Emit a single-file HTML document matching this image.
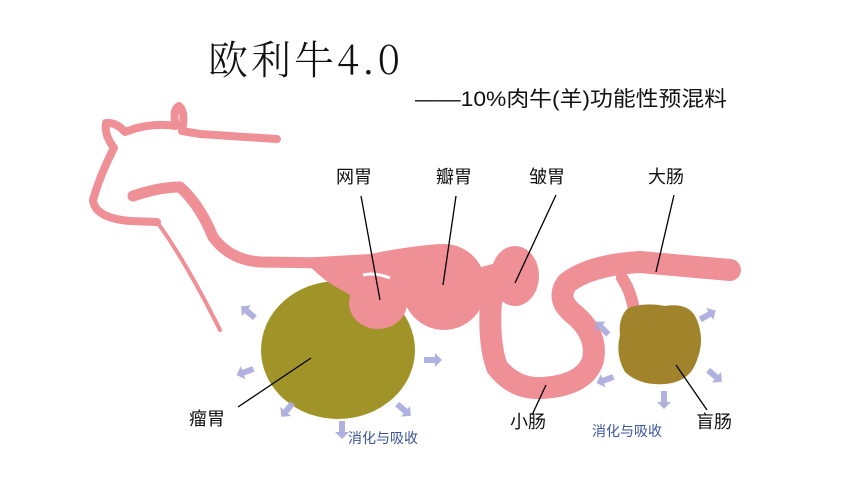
<!DOCTYPE html>
<html><head><meta charset="utf-8"><style>
html,body{margin:0;padding:0;background:#fff;width:848px;height:490px;overflow:hidden}
svg{display:block}
.t{font-family:"Liberation Sans","Noto Sans CJK SC",sans-serif;fill:#111}
.b{font-family:"Liberation Sans","Noto Sans CJK SC",sans-serif;fill:#3a55a0;font-size:14px}
</style></head><body>
<svg width="848" height="490" viewBox="0 0 848 490" xmlns="http://www.w3.org/2000/svg">
<defs>
<g id="ar"><path d="M-9,-3 L2,-3 L2,-7 L9,0 L2,7 L2,3 L-9,3 Z" fill="#a8a8dc" opacity="0.9"/></g>
</defs>
<text x="208" y="74" font-family="'Noto Serif CJK SC',serif" font-weight="300" font-size="40" fill="#111" letter-spacing="3">欧利牛4.0</text>
<text x="415" y="106" class="t" font-size="21" textLength="312" lengthAdjust="spacingAndGlyphs">——10%肉牛(羊)功能性预混料</text>

<!-- rumen -->
<ellipse cx="338" cy="350" rx="77" ry="69" fill="#a09428"/>
<g fill="none" stroke="#ef8f96" stroke-linecap="round" stroke-linejoin="round">
<path d="M277,139 L200,134 L182,131 Q186,112 179,106 Q172,110 176,126 Q150,122 125,132 Q116,122 106,123 Q104,135 114,148 Q100,175 93,200 Q95,218 130,221 L157,222" stroke-width="8"/>
<path d="M157,222 Q185,260 220,330" stroke-width="4"/>
<path d="M133,196 Q160,187 180,187 Q200,205 213,237 Q230,260 260,262 L330,263" stroke-width="11"/>
<path d="M492,290 Q487,340 497,367 Q515,390 543,388 Q585,385 593,360 Q598,335 575,315 Q555,300 567,283 Q590,265 640,262 L730,270" stroke-width="22"/>
<path d="M622,278 Q630,290 633,305" stroke-width="12"/>
</g>
<g fill="#ef8f96">
<path d="M300,258 L370,254 Q410,246 440,244 L440,300 L360,300 Q340,290 325,280 Z"/>
<ellipse cx="378" cy="303" rx="29" ry="26"/>
<ellipse cx="444" cy="287" rx="42" ry="43"/>
<path d="M470,270 L500,262 L500,300 L470,305 Z"/>
<ellipse cx="515" cy="276" rx="24" ry="30"/>
<ellipse cx="730" cy="271" rx="8" ry="9"/>
</g>
<path d="M363,275 Q375,272 390,278" stroke="#fff" stroke-width="3" fill="none"/>
<!-- cecum -->
<path d="M628,308 Q645,302 665,306 Q690,302 697,320 Q705,340 697,360 Q690,382 665,384 Q640,386 625,372 Q615,355 620,335 Q618,318 628,308 Z" fill="#a0832a"/>

<g stroke="#000" stroke-width="1.3">
<line x1="361" y1="196" x2="380" y2="300"/>
<line x1="456" y1="196" x2="443" y2="285"/>
<line x1="556" y1="195" x2="515" y2="283"/>
<line x1="674" y1="195" x2="656" y2="272"/>
<line x1="311" y1="358" x2="238" y2="407"/>
<line x1="546" y1="385" x2="532" y2="415"/>
<line x1="676" y1="365" x2="707" y2="410"/>
</g>
<text x="336" y="183" class="t" font-size="18">网胃</text>
<text x="436" y="183" class="t" font-size="18">瓣胃</text>
<text x="529" y="183" class="t" font-size="18">皱胃</text>
<text x="648" y="183" class="t" font-size="18">大肠</text>
<text x="189" y="425" class="t" font-size="18">瘤胃</text>
<text x="510" y="428" class="t" font-size="18">小肠</text>
<text x="696" y="428" class="t" font-size="18">盲肠</text>
<text x="348" y="443" class="b">消化与吸收</text>
<text x="592" y="436" class="b">消化与吸收</text>

<use href="#ar" transform="translate(248,312) rotate(-140)"/>
<use href="#ar" transform="translate(245,372) rotate(160)"/>
<use href="#ar" transform="translate(287,410) rotate(130)"/>
<use href="#ar" transform="translate(342,430) rotate(90)"/>
<use href="#ar" transform="translate(404,410) rotate(40)"/>
<use href="#ar" transform="translate(433,360) rotate(0)"/>
<use href="#ar" transform="translate(602,328) rotate(-135)"/>
<use href="#ar" transform="translate(605,380) rotate(160)"/>
<use href="#ar" transform="translate(664,400) rotate(90)"/>
<use href="#ar" transform="translate(715,376) rotate(40)"/>
<use href="#ar" transform="translate(708,315) rotate(-30)"/>
</svg>
</body></html>
